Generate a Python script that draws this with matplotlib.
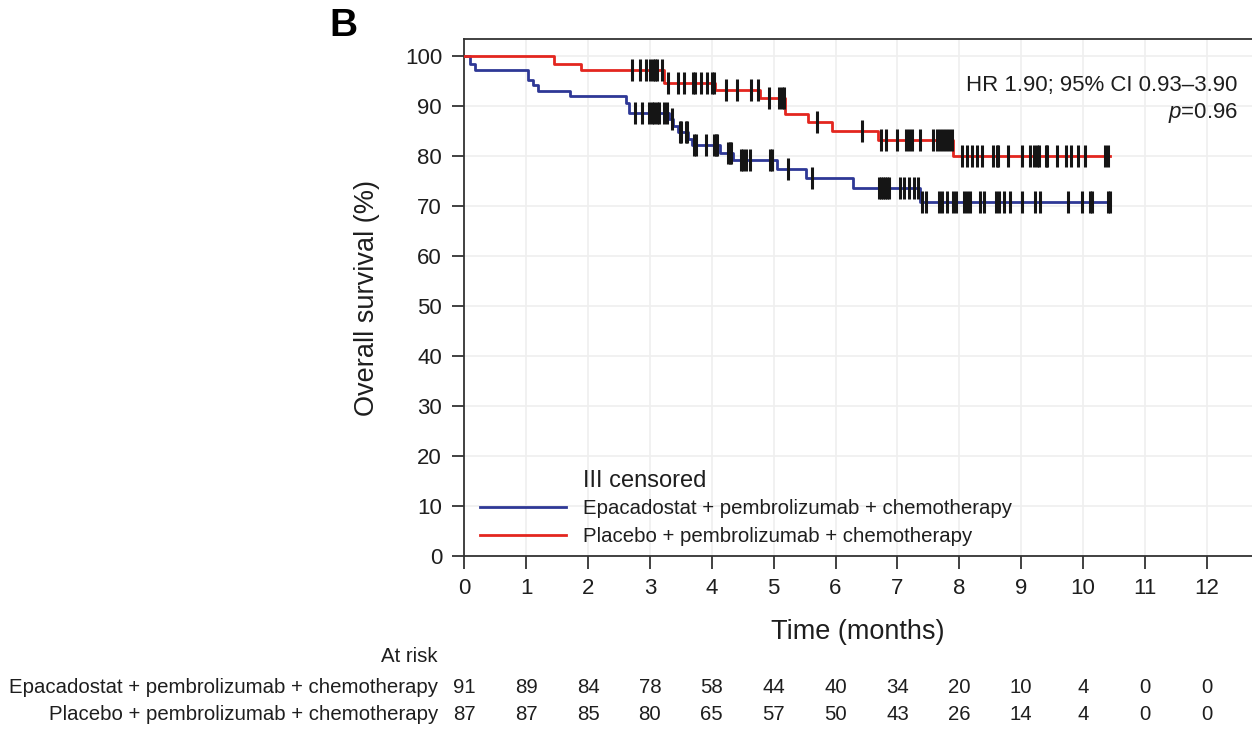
import matplotlib
matplotlib.use("Agg")
import matplotlib.pyplot as plt
import numpy as np

plt.rcParams['font.family'] = ['Liberation Sans', 'DejaVu Sans']
plt.rcParams['mathtext.fontset'] = 'custom'
plt.rcParams['mathtext.it'] = 'Liberation Sans:italic'
plt.rcParams['mathtext.rm'] = 'Liberation Sans'

# Kaplan-Meier steps (months, % surviving after the step)
epa_times = [0, 0.09, 0.17, 1.03, 1.11, 1.19, 1.71, 2.61, 2.66, 3.31, 3.37, 3.45,
             3.61, 3.68, 4.13, 4.34, 5.05, 5.53, 6.28, 7.36, 10.44]
epa_surv = [100, 98.5, 97.3, 95.2, 94.2, 93.1, 92.0, 90.7, 88.7, 87.5, 86.0, 84.9,
            83.5, 82.2, 80.7, 79.2, 77.5, 75.7, 73.7, 70.9, 70.9]
pla_times = [0, 1.45, 1.88, 3.23, 4.05, 4.78, 5.18, 5.56, 5.94, 6.69, 7.90, 10.44]
pla_surv = [100, 98.5, 97.3, 94.7, 93.2, 91.7, 88.4, 86.9, 85.1, 83.2, 80.1, 80.1]

# censoring times
epa_cens = [2.76, 2.88, 2.99, 3.03, 3.07, 3.11, 3.14, 3.23, 3.27, 3.36, 3.49, 3.51,
            3.58, 3.60, 3.71, 3.74, 3.91, 4.04, 4.07, 4.09, 4.26, 4.29, 4.31, 4.47,
            4.51, 4.55, 4.61, 4.94, 4.97, 5.23, 5.62, 6.70, 6.73, 6.76, 6.80, 6.83,
            6.87, 7.04, 7.11, 7.19, 7.27, 7.34, 7.39, 7.46, 7.68, 7.72, 7.80, 7.90,
            7.95, 8.08, 8.12, 8.18, 8.33, 8.40, 8.59, 8.64, 8.72, 8.82, 9.02, 9.22,
            9.30, 9.76, 9.98, 10.11, 10.15, 10.40, 10.44]
pla_cens = [2.71, 2.84, 2.94, 3.00, 3.05, 3.08, 3.11, 3.19, 3.30, 3.46, 3.55, 3.69,
            3.73, 3.82, 3.92, 4.01, 4.04, 4.23, 4.41, 4.63, 4.74, 4.93, 5.09, 5.14,
            5.17, 5.70, 6.43, 6.74, 6.82, 6.99, 7.14, 7.19, 7.23, 7.37, 7.58, 7.64,
            7.69, 7.73, 7.78, 7.84, 7.88, 8.05, 8.13, 8.21, 8.28, 8.36, 8.54, 8.61,
            8.63, 8.79, 9.02, 9.14, 9.21, 9.25, 9.29, 9.40, 9.42, 9.58, 9.73, 9.80,
            9.92, 10.03, 10.36, 10.41]

arms = ["Epacadostat + pembrolizumab + chemotherapy",
        "Placebo + pembrolizumab + chemotherapy"]
risk_months = list(range(13))
epa_risk = [91, 89, 84, 78, 58, 44, 40, 34, 20, 10, 4, 0, 0]
pla_risk = [87, 87, 85, 80, 65, 57, 50, 43, 26, 14, 4, 0, 0]

blue = '#2E3896'
red = '#E3261F'
ink = '#1E1E1E'


def surv_at(times, surv, t):
    idx = np.searchsorted(times, t, side='right') - 1
    return np.asarray(surv)[idx]


fig = plt.figure(figsize=(12.52, 7.29), dpi=100)
ax = fig.add_axes([0.3708, 0.2373, 0.6292, 0.7092])

ax.step(epa_times, epa_surv, where='post', color=blue, lw=2.0, label=arms[0], zorder=3)
ax.step(pla_times, pla_surv, where='post', color=red, lw=2.0, label=arms[1], zorder=3)
ax.plot(epa_cens, surv_at(epa_times, epa_surv, epa_cens), ls='none', marker='|',
        ms=15.5, mew=2.2, color='#151515', zorder=4)
ax.plot(pla_cens, surv_at(pla_times, pla_surv, pla_cens), ls='none', marker='|',
        ms=15.5, mew=2.2, color='#151515', zorder=4)

ax.set_xlim(0, 12.73)
ax.set_ylim(0, 103.4)
ax.set_xticks(range(13))
ax.set_yticks(range(0, 101, 10))
ax.grid(True, color='#EFEFEF', lw=1.2, zorder=0)
ax.set_axisbelow(True)
ax.spines['right'].set_visible(False)
for s in ['left', 'bottom', 'top']:
    ax.spines[s].set_color('#333333')
    ax.spines[s].set_linewidth(1.3)
ax.tick_params(direction='out', length=9, width=1.3, color='#333333',
               labelsize=16, labelcolor=ink, pad=7)

ax.set_xlabel("Time (months)", fontsize=19.5, color=ink, labelpad=14)
ax.set_ylabel("Overall survival (%)", fontsize=19.5, color=ink, labelpad=18)

ax.text(0.982, 0.911, "HR 1.90; 95% CI 0.93\u20133.90", transform=ax.transAxes,
        ha='right', va='center', fontsize=16, color=ink)
ax.text(0.982, 0.857, r"$\mathit{p}$=0.96", transform=ax.transAxes,
        ha='right', va='center', fontsize=16, color=ink)

leg = ax.legend(loc='lower left', bbox_to_anchor=(0.0203, 0.019), frameon=False,
                fontsize=14.7, handlelength=4.2, handletextpad=0.85, labelspacing=0.45,
                borderaxespad=0.0, borderpad=0.0)
for t in leg.get_texts():
    t.set_color(ink)
ax.text(0.1505, 0.145, "III censored", transform=ax.transAxes, ha='left',
        va='center', fontsize=17, color=ink)

fig.text(0.263, 0.965, "B", fontsize=28, fontweight='bold', ha='left', va='center')

# number at risk table below the axes
tr = ax.get_xaxis_transform()
ax.text(-0.425, -0.195, "At risk", transform=tr, ha='right', va='center',
        fontsize=14.7, color=ink)
for row_y, name, counts in [(-0.2534, arms[0], epa_risk), (-0.3075, arms[1], pla_risk)]:
    ax.text(-0.425, row_y, name, transform=tr, ha='right', va='center',
            fontsize=14.7, color=ink)
    for m, n in zip(risk_months, counts):
        ax.text(m, row_y, str(n), transform=tr, ha='center', va='center',
                fontsize=14.7, color=ink)

fig.savefig("out.png", dpi=100)
plt.close(fig)
